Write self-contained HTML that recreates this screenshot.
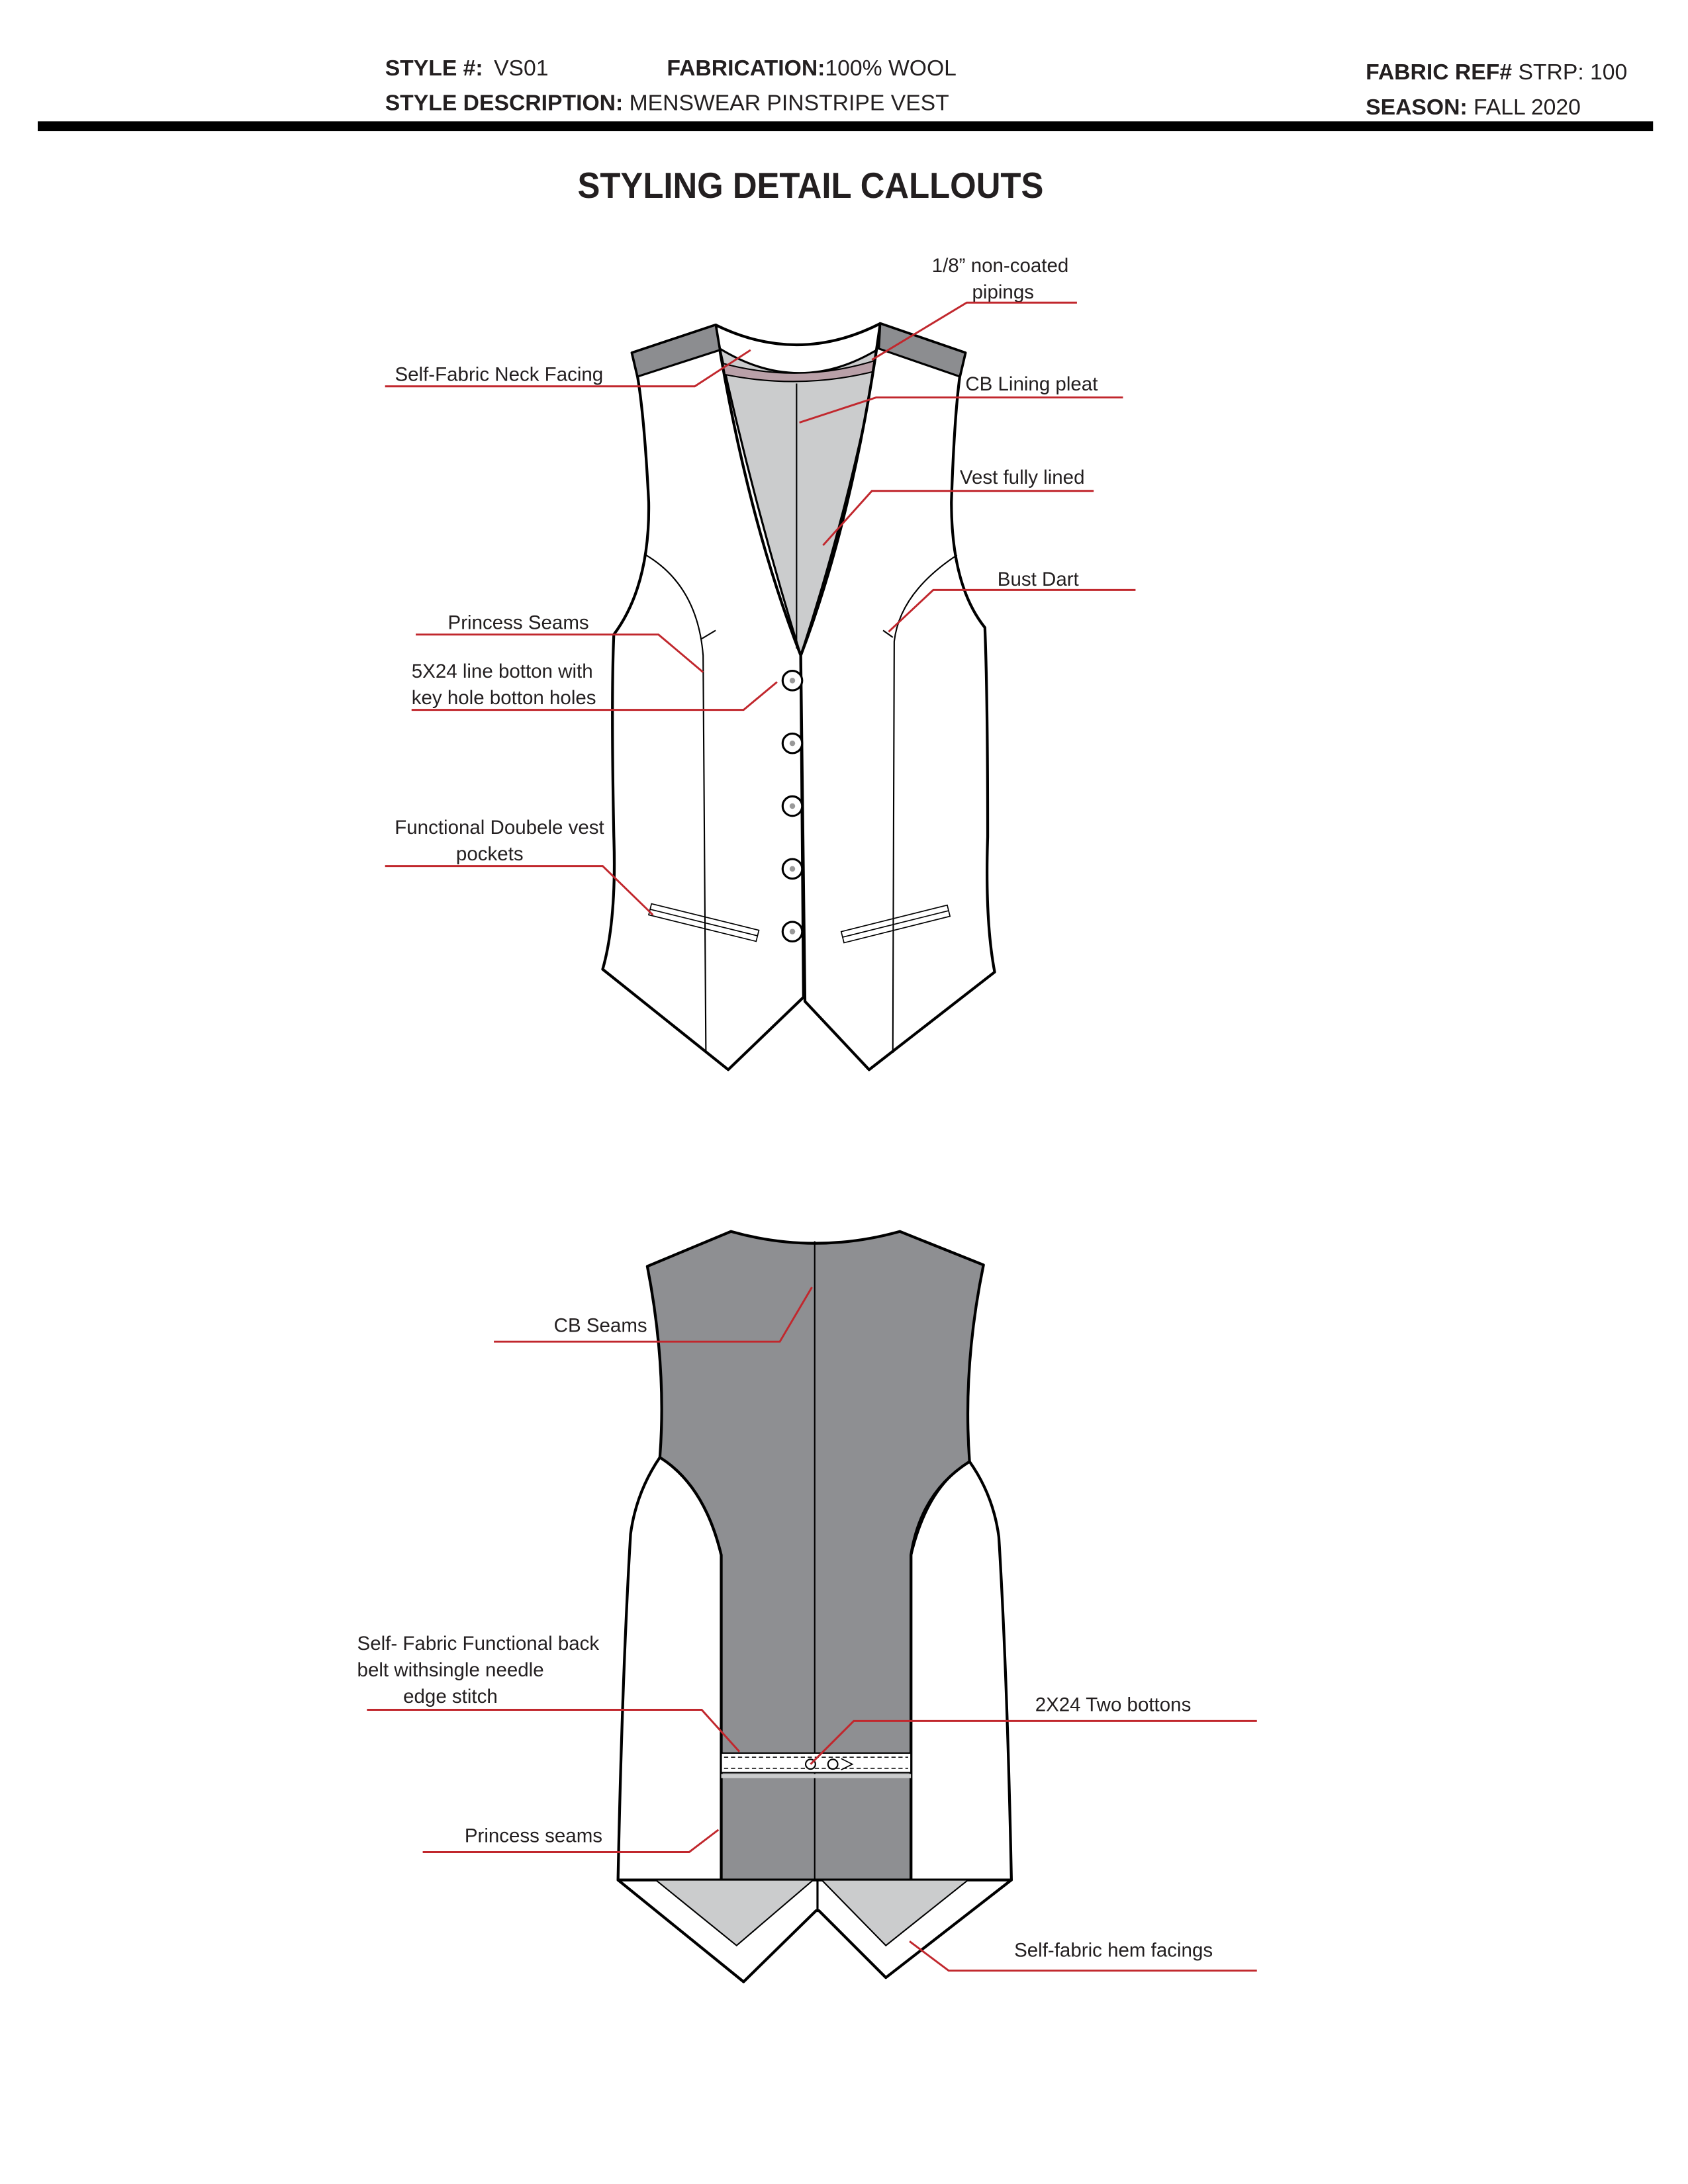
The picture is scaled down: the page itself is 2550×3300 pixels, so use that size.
<!DOCTYPE html>
<html><head><meta charset="utf-8"><style>
html,body{margin:0;padding:0;background:#fff;}
svg{display:block;}
text{font-family:"Liberation Sans",sans-serif;fill:#231f20;}
.b{font-weight:bold;}
.h{font-size:16px;}
.l{font-size:14px;}
.o{fill:#fff;stroke:#000;stroke-width:2;stroke-linejoin:round;}
.t{fill:none;stroke:#000;stroke-width:1;}
.r{fill:none;stroke:#c1272d;stroke-width:1.4;}
</style></head><body>
<svg width="2550" height="3300" viewBox="0 0 1210 1566" xmlns="http://www.w3.org/2000/svg">
<rect width="1210" height="1566" fill="#fff"/>
<!-- header -->
<text x="276" y="54" class="h"><tspan class="b">STYLE #:</tspan><tspan x="354">VS01</tspan></text>
<text x="478" y="54" class="h"><tspan class="b">FABRICATION:</tspan>100% WOOL</text>
<text x="276" y="79" class="h"><tspan class="b">STYLE DESCRIPTION:</tspan> MENSWEAR PINSTRIPE VEST</text>
<text x="979" y="57" class="h"><tspan class="b">FABRIC REF#</tspan> STRP: 100</text>
<text x="979" y="82" class="h"><tspan class="b">SEASON:</tspan> FALL 2020</text>
<rect x="27" y="87" width="1158" height="7" fill="#000"/>
<text x="414" y="142" textLength="334" lengthAdjust="spacingAndGlyphs" class="b" style="font-size:26px">STYLING DETAIL CALLOUTS</text>

<!-- FRONT VEST -->
<path d="M516,250 Q573,285 630,250 Q610,360 574,470 Q540,360 516,250 Z" fill="#cbcccd" stroke="#000" stroke-width="1.5"/>
<path d="M516,260 Q573,276 629,258 L628,266 Q573,280 517,268 Z" fill="#b9a0a8" stroke="#000" stroke-width="1"/>
<path class="o" d="M453,253 L513,233 Q535,370 574,470 L576,715 L522,767 L432,695 Q442,660 440,600 Q438,500 440,455 Q466,420 465,360 Q462,300 457,270 Z"/>
<path class="o" d="M692,253 L631,232 Q612,370 574,470 L577,718 L623,767 L713,697 Q706,660 708,600 Q708,500 706,450 Q682,420 682,360 Q684,300 688,270 Z"/>
<path d="M513,233 Q572,262 631,232" fill="none" stroke="#000" stroke-width="2"/>
<polygon points="453,253 513,233 516,251 457,270" fill="#8c8d90" stroke="#000" stroke-width="1.5"/>
<polygon points="692,253 631,232 630,250 688,270" fill="#8c8d90" stroke="#000" stroke-width="1.5"/>
<line class="t" x1="571" y1="275" x2="571" y2="465"/>
<path class="t" d="M463,398 Q500,420 504,470 L506,755"/>
<path class="t" d="M686,398 Q645,425 641,460 L640,755"/>
<line class="t" x1="503" y1="458" x2="513" y2="452"/>
<line class="t" x1="633" y1="452" x2="640" y2="457"/>
<g fill="#fff" stroke="#000" stroke-width="1.5">
<circle cx="568" cy="488" r="7"/><circle cx="568" cy="533" r="7"/><circle cx="568" cy="578" r="7"/><circle cx="568" cy="623" r="7"/><circle cx="568" cy="668" r="7"/>
</g>
<g fill="#999">
<circle cx="568" cy="488" r="2"/><circle cx="568" cy="533" r="2"/><circle cx="568" cy="578" r="2"/><circle cx="568" cy="623" r="2"/><circle cx="568" cy="668" r="2"/>
</g>
<g fill="none" stroke="#000" stroke-width="0.8">
<polygon points="467,648 544,667 542,675 465,656"/>
<line x1="466" y1="652" x2="543" y2="671"/>
<polygon points="603,668 679,649 681,657 605,676"/>
<line x1="604" y1="672" x2="680" y2="653"/>
</g>

<!-- front callouts -->
<text x="717" y="195" text-anchor="middle" class="l">1/8” non-coated</text>
<text x="719" y="214" text-anchor="middle" class="l">pipings</text>
<path class="r" d="M772,217 L693,217 L625,258"/>
<text x="283" y="273" class="l">Self-Fabric Neck Facing</text>
<path class="r" d="M276,277 L498,277 L538,251"/>
<text x="692" y="280" class="l">CB Lining pleat</text>
<path class="r" d="M805,285 L628,285 L573,303"/>
<text x="688" y="347" class="l">Vest fully lined</text>
<path class="r" d="M784,352 L625,352 L590,391"/>
<text x="715" y="420" class="l">Bust Dart</text>
<path class="r" d="M814,423 L669,423 L637,453"/>
<text x="321" y="451" class="l">Princess Seams</text>
<path class="r" d="M298,455 L472,455 L504,482"/>
<text x="295" y="486" class="l">5X24 line botton with</text>
<text x="295" y="505" class="l">key hole botton holes</text>
<path class="r" d="M295,509 L533,509 L557,489"/>
<text x="358" y="598" text-anchor="middle" class="l">Functional Doubele vest</text>
<text x="351" y="617" text-anchor="middle" class="l">pockets</text>
<path class="r" d="M276,621 L432,621 L468,656"/>

<!-- BACK VEST -->
<path class="o" d="M473,1045 Q456,1070 452,1100 Q446,1200 443,1348 L517,1348 L517,1115 Q505,1065 473,1045 Z"/>
<path class="o" d="M695,1048 Q712,1072 716,1102 Q722,1200 725,1348 L653,1348 L653,1115 Q665,1065 695,1048 Z"/>
<path d="M464,908 L524,883 Q584,900 645,883 L705,907 Q690,980 695,1048 Q660,1070 653,1115 L653,1348 L517,1348 L517,1115 Q505,1065 473,1045 Q478,980 464,908 Z" fill="#8e8f92" stroke="#000" stroke-width="2" stroke-linejoin="round"/>
<line class="t" x1="584" y1="890" x2="584" y2="1347"/>
<path class="o" d="M443,1348 L533,1421 L585,1370 L587,1370 L635,1418 L725,1348 Z"/>
<line x1="586" y1="1348" x2="586" y2="1370" stroke="#000" stroke-width="1.5"/>
<polygon points="470,1348 528,1395 583,1348" fill="#cbcccd" stroke="#000" stroke-width="1"/>
<polygon points="589,1348 635,1395 694,1348" fill="#cbcccd" stroke="#000" stroke-width="1"/>
<rect x="517" y="1257" width="136" height="14" fill="#fff" stroke="#000" stroke-width="1"/>
<line x1="519" y1="1260" x2="651" y2="1260" stroke="#000" stroke-width="0.7" stroke-dasharray="3,2"/>
<line x1="519" y1="1268" x2="651" y2="1268" stroke="#000" stroke-width="0.7" stroke-dasharray="3,2"/>
<rect x="517" y="1272" width="136" height="3" fill="#cbcccd"/>
<circle cx="581" cy="1265" r="3.5" fill="#fff" stroke="#000"/>
<circle cx="597" cy="1265" r="3.5" fill="#fff" stroke="#000"/>
<path d="M603,1261 L611,1265 L603,1269" fill="none" stroke="#000" stroke-width="0.8"/>

<!-- back callouts -->
<text x="397" y="955" class="l">CB Seams</text>
<path class="r" d="M354,962 L559,962 L582,923"/>
<text x="256" y="1183" class="l">Self- Fabric Functional back</text>
<text x="256" y="1202" class="l">belt withsingle needle</text>
<text x="289" y="1221" class="l">edge stitch</text>
<path class="r" d="M263,1226 L503,1226 L530,1256"/>
<text x="742" y="1227" class="l">2X24 Two bottons</text>
<path class="r" d="M901,1234 L612,1234 L581,1265"/>
<text x="333" y="1321" class="l">Princess seams</text>
<path class="r" d="M303,1328 L494,1328 L515,1312"/>
<text x="727" y="1403" class="l">Self-fabric hem facings</text>
<path class="r" d="M901,1413 L680,1413 L652,1392"/>
</svg>
</body></html>
